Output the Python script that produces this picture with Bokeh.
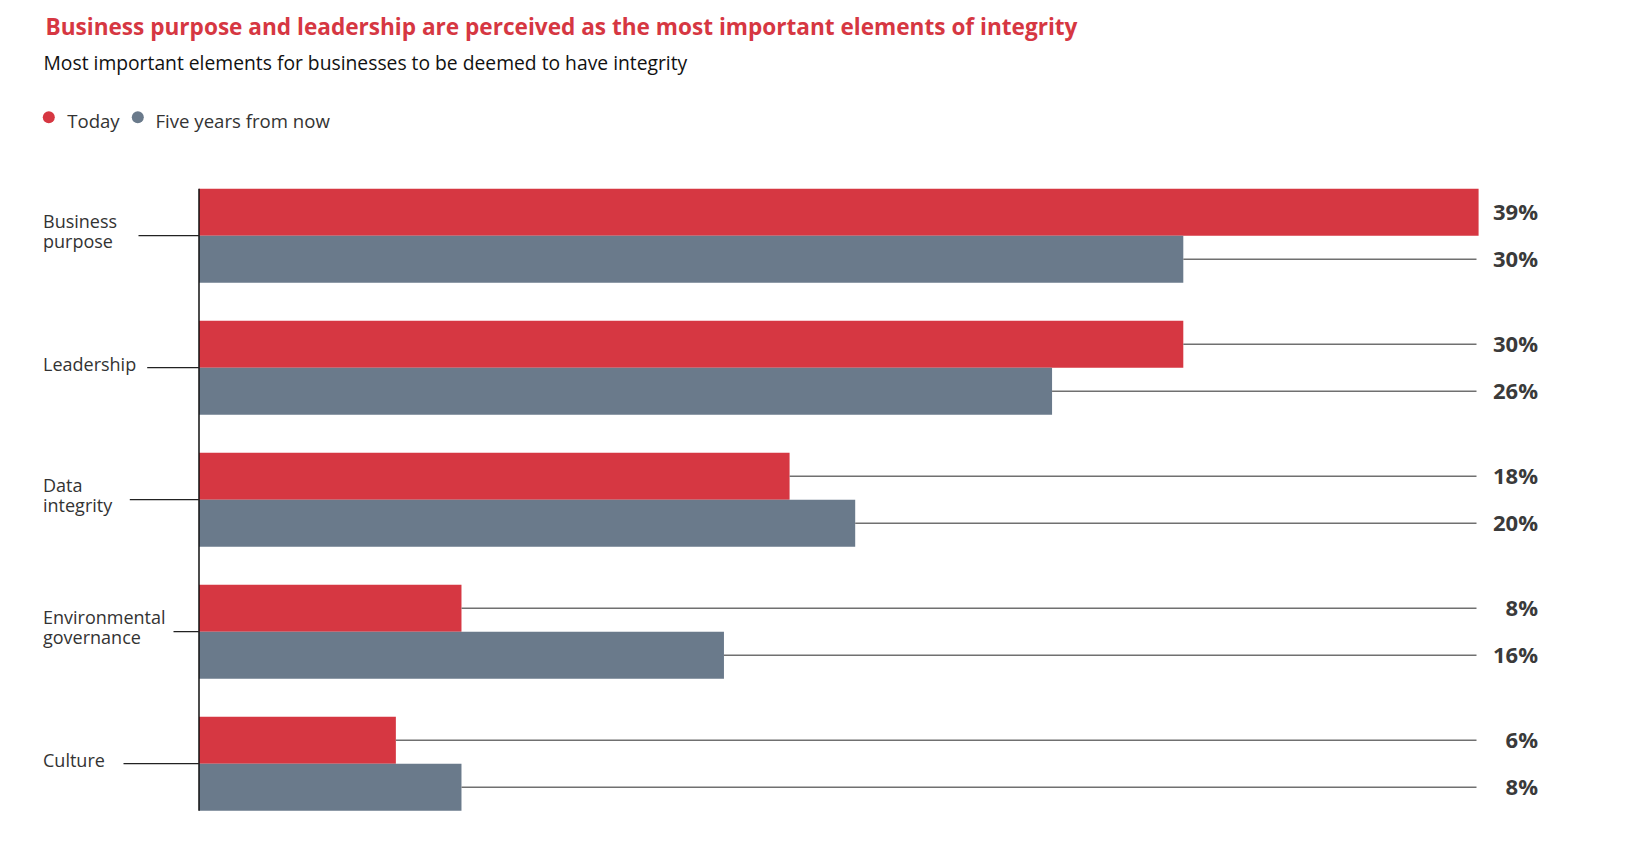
from bokeh.plotting import figure
from bokeh.models import ColumnDataSource, Range1d, Label
from bokeh.embed import file_html
from bokeh.resources import INLINE
from bokeh.core.properties import value

# ---------------- data ----------------
categories = ["Business\npurpose", "Leadership", "Data\nintegrity",
              "Environmental\ngovernance", "Culture"]
today = [39, 30, 18, 8, 6]
five_years = [30, 26, 20, 16, 8]
series_names = ["Today", "Five years from now"]
title_text = ("Business purpose and leadership are perceived as the most "
              "important elements of integrity")
subtitle_text = "Most important elements for businesses to be deemed to have integrity"

# ---------------- style / layout ----------------
RED = "#D63742"
GREY = "#6A7A8B"
FONT = "Open Sans"
W, H = 1610, 848
ORIGIN = 0               # picture x/y of the figure's top-left corner
AXIS_PX = 198.5          # picture x of the zero line
PX_PER_PCT = 32.81       # px per percentage point
ROW0_PY = 235.2          # picture y of first category centre
PITCH = 132.0            # px between categories
BAR_H_PX = 47.0
LEADER_END_PX = 1476
VALUE_RIGHT_PX = 1537.5
CAT_LABEL_PX = 42.5
TICK_START_PX = [138, 146.7, 129.3, 173, 123]
BASE_FIX = 0.42          # baseline correction, fraction of font size

SZ_VALUE, SZ_CAT, SZ_TITLE, SZ_SUB, SZ_LEG = 22, 18, 22.6, 19.3, 18.6


def X(px):
    return (px - AXIS_PX) / PX_PER_PCT


def Y(py):
    return (py - ROW0_PY) / PITCH


def fix(size):
    return BASE_FIX * size


p = figure(width=W, height=H, output_backend="svg", toolbar_location=None,
           x_range=Range1d(X(ORIGIN), X(ORIGIN + W)),
           y_range=Range1d(Y(ORIGIN + H), Y(ORIGIN)),
           x_axis_location=None, y_axis_location=None, min_border=0)
p.grid.visible = False
p.outline_line_color = None
p.background_fill_color = "white"

n = len(categories)
rows = list(range(n))
bh = BAR_H_PX / PITCH
src = ColumnDataSource(dict(
    row=rows,
    today=today,
    five=five_years,
    y_today=[r - bh / 2 for r in rows],
    y_five=[r + bh / 2 for r in rows],
))

p.hbar(y="y_today", left=0, right="today", height=bh, source=src,
       fill_color=RED, line_color=None)
p.hbar(y="y_five", left=0, right="five", height=bh, source=src,
       fill_color=GREY, line_color=None)

# leader lines from bar end to value labels
lx0, lx1, ly = [], [], []
vx, vy, vt = [], [], []
leader_end = X(LEADER_END_PX)
for r in rows:
    for v, yc in ((today[r], r - bh / 2), (five_years[r], r + bh / 2)):
        if v < leader_end:
            lx0.append(v)
            lx1.append(leader_end)
            ly.append(yc)
        vx.append(X(VALUE_RIGHT_PX))
        vy.append(yc + (8 - fix(SZ_VALUE)) / PITCH)
        vt.append(f"{v}%")
p.segment(x0=lx0, x1=lx1, y0=ly, y1=ly, line_color="#707070", line_width=1.5)
p.text(x=vx, y=vy, text=vt, text_align="right", text_baseline="alphabetic",
       text_font=value(FONT), text_font_style="bold",
       text_font_size=f"{SZ_VALUE}px", text_color="#3a3a3a")

# zero line
p.segment(x0=[0], x1=[0], y0=[-bh], y1=[n - 1 + bh], line_color="#111111",
          line_width=1.5)

# category ticks and labels
p.segment(x0=[X(t) for t in TICK_START_PX], x1=[0] * n, y0=rows, y1=rows,
          line_color="#222222", line_width=1.3)
cx, cy, ct = [], [], []
for r, c in zip(rows, categories):
    parts = c.split("\n")
    offs = [4] if len(parts) == 1 else [-7, 13]
    for part, o in zip(parts, offs):
        cx.append(X(CAT_LABEL_PX))
        cy.append(r + (o - fix(SZ_CAT)) / PITCH)
        ct.append(part)
p.text(x=cx, y=cy, text=ct, text_align="left", text_baseline="alphabetic",
       text_font=value(FONT), text_font_size=f"{SZ_CAT}px",
       text_color="#333333")

# title / subtitle
p.add_layout(Label(x=X(45), y=Y(35 - fix(SZ_TITLE)), text=title_text,
                   text_font=FONT, text_font_style="bold",
                   text_font_size=f"{SZ_TITLE}px", text_color=RED,
                   text_baseline="alphabetic"))
p.add_layout(Label(x=X(43), y=Y(70 - fix(SZ_SUB)), text=subtitle_text,
                   text_font=FONT, text_font_size=f"{SZ_SUB}px",
                   text_color="#111111", text_baseline="alphabetic"))

# legend
p.scatter(x=[X(48.3), X(137.3)], y=[Y(116.7)] * 2, size=12,
          fill_color=[RED, GREY], line_color=None)
p.text(x=[X(66.7), X(155)], y=[Y(128 - fix(SZ_LEG))] * 2, text=series_names,
       text_align="left", text_baseline="alphabetic", text_font=value(FONT),
       text_font_size=f"{SZ_LEG}px", text_color="#333333")

open("out.html", "w").write(file_html(p, INLINE))
